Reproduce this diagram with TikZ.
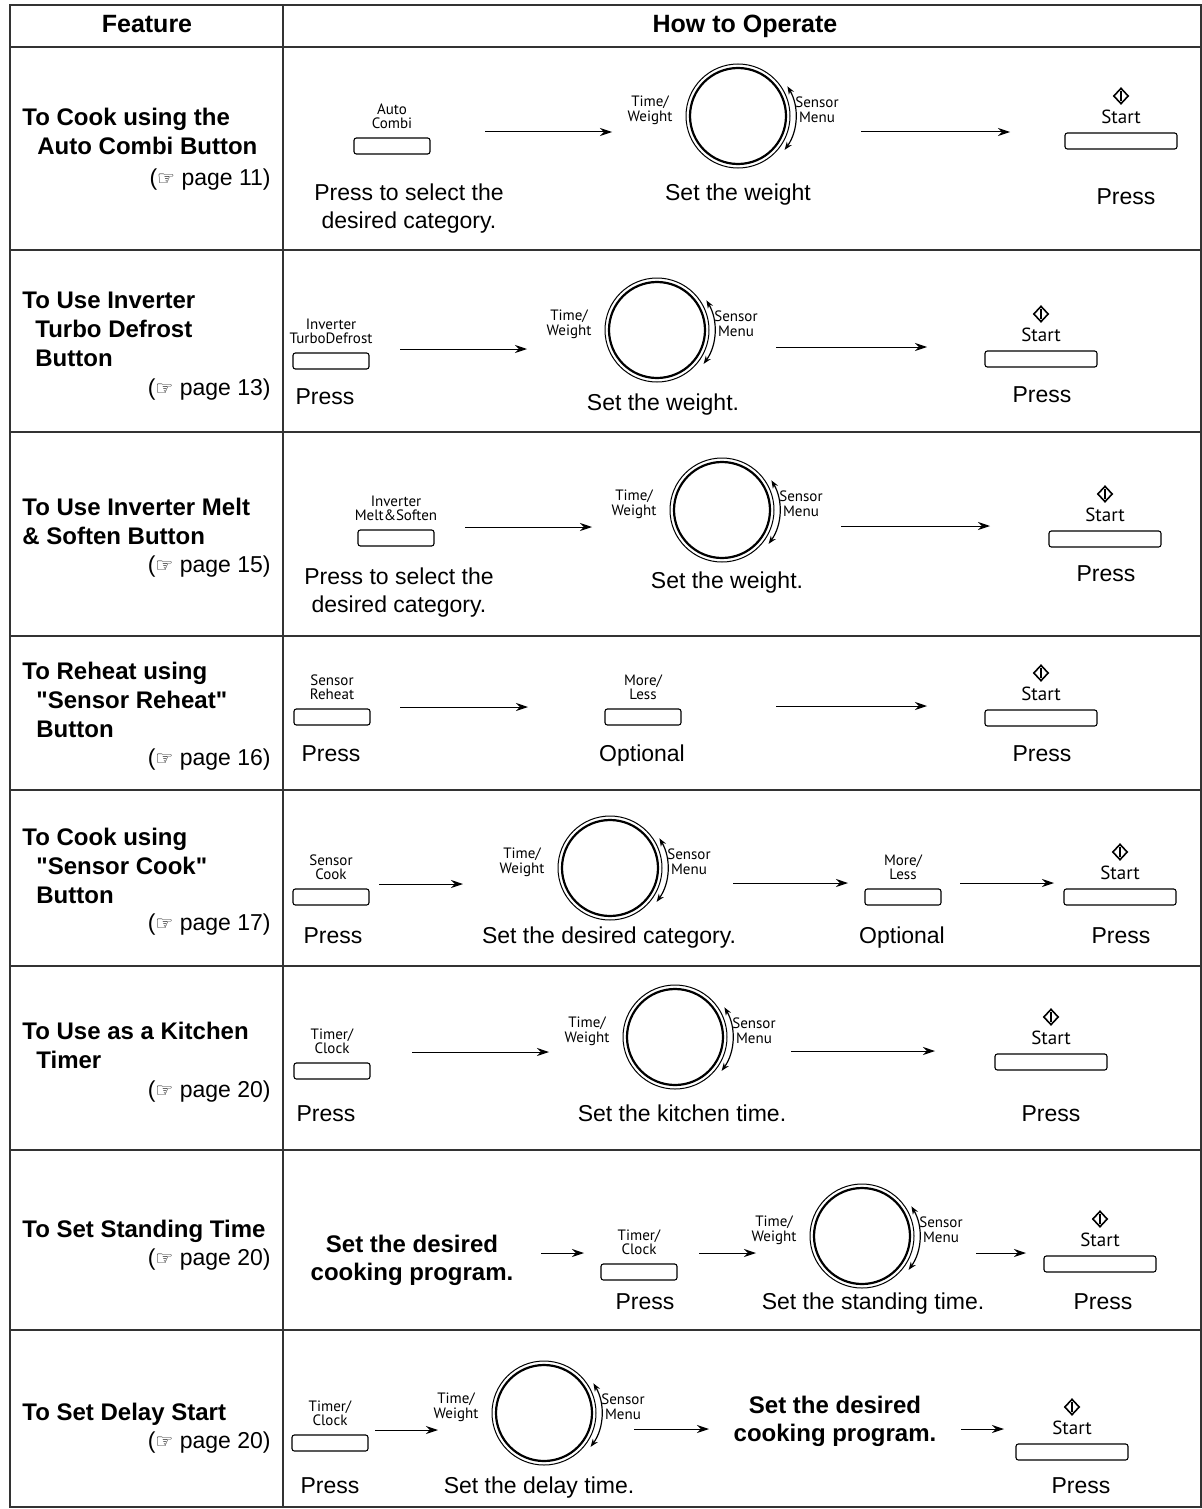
\documentclass[tikz,border=0pt]{standalone}
\usepackage{fontspec}
\setmainfont{Liberation Sans}
\newfontfamily\keyfont{PT Sans}
\newfontfamily\symfont{DejaVu Sans}
\usetikzlibrary{positioning,shapes.geometric,arrows.meta}

\newcommand{\pg}[1]{({\symfont\fontsize{10}{10}\selectfont ☞} page #1)}
\newcommand{\qq}{\XeTeXglyph\XeTeXglyphindex "quotedbl"\relax}

\begin{document}
\begin{tikzpicture}[x=0.5pt, y=-0.5pt, >={Stealth[length=6pt,width=4pt]},
  grid/.style={draw=black!80, line width=0.8pt},
  head/.style={font=\fontsize{12.5}{14}\selectfont\bfseries, inner sep=0pt, anchor=base},
  feat/.style={font=\fontsize{12}{14.5}\selectfont\bfseries, align=left, inner sep=0pt, anchor=base west},
  ref/.style={font=\fontsize{11.5}{14}\selectfont, inner sep=0pt, anchor=base east},
  txt/.style={font=\fontsize{11.5}{14}\selectfont, align=center, inner sep=0pt, anchor=base},
  prog/.style={font=\fontsize{12}{14}\selectfont\bfseries, align=center, inner sep=0pt, anchor=base},
  keybtn/.style={draw, rounded corners=1.2pt, line width=0.55pt, minimum width=38pt, minimum height=8pt, inner sep=0pt},
  startbtn/.style={keybtn, minimum width=56pt},
  keylbl/.style={font=\keyfont\fontsize{7.5}{7.4}\selectfont, align=center, inner sep=0pt},
  starticon/.style={diamond, draw, line width=0.8pt, minimum width=7.5pt, minimum height=8pt, inner sep=0pt,
    path picture={\draw[line width=1.3pt] ([yshift=-2.6pt]path picture bounding box.center) -- ([yshift=2.6pt]path picture bounding box.center);}},
  dial/.pic={
    \node[circle, draw, line width=1.1pt, minimum size=48pt, inner sep=0pt] (-c) {};
    \draw[line width=0.5pt] (-c.center) circle[radius=26pt];
    \draw[{Stealth[length=4pt,width=3pt]}-{Stealth[length=4pt,width=3pt]}, line width=0.6pt] (-36:28.8pt) arc[start angle=-36, end angle=31, radius=28.8pt];
    \node[keylbl] (-tw) at (-88,-6) {Time/\\Weight};
    \node[keylbl] (-sm) at (79,-6) {Sensor\\Menu};
  },
  startkey/.pic={
    \node[startbtn] (-b) {};
    \node[keylbl, font=\keyfont\fontsize{9.5}{10}\selectfont] (-t) at (0,-24) {Start};
    \node[starticon] (-i) at (0,-45) {};
  }]
  \useasboundingbox (0,0) rectangle (1202,1509);
  % Table
  \draw[grid] (10,5) rectangle (1201,1507);
  \draw[grid] (283,5) -- (283,1507);
  \foreach \y in {47,250,432,636,790,966,1150,1330}
    \draw[grid] (10,\y) -- (1201,\y);
  \node[head] (h1) at (147,33) {Feature};
  \node[head] (h2) at (745,33) {How to Operate};

  % Features (base = last line)
  \node[feat] (f1) at (22,155) {To Cook using the\\\hspace*{7.5pt}Auto Combi Button};
  \node[ref] (r1) at (271,185) {\pg{11}};
  \node[feat] (f2) at (22,366) {To Use Inverter\\\hspace*{6.5pt}Turbo Defrost\\\hspace*{6.5pt}Button};
  \node[ref] (r2) at (271,395) {\pg{13}};
  \node[feat] (f3) at (22,544) {To Use Inverter Melt\\\& Soften Button};
  \node[ref] (r3) at (271,572) {\pg{15}};
  \node[feat] (f4) at (22,737) {To Reheat using\\\hspace*{7pt}\qq Sensor Reheat\qq\\\hspace*{7pt}Button};
  \node[ref] (r4) at (271,765) {\pg{16}};
  \node[feat] (f5) at (22,903) {To Cook using\\\hspace*{7pt}\qq Sensor Cook\qq\\\hspace*{7pt}Button};
  \node[ref] (r5) at (271,930) {\pg{17}};
  \node[feat] (f6) at (22,1068) {To Use as a Kitchen\\\hspace*{7pt}Timer};
  \node[ref] (r6) at (271,1097) {\pg{20}};
  \node[feat] (f7) at (22,1237) {To Set Standing Time};
  \node[ref] (r7) at (271,1265) {\pg{20}};
  \node[feat] (f8) at (22,1420) {To Set Delay Start};
  \node[ref] (r8) at (271,1448) {\pg{20}};

  % Keys
  \node[keybtn] (b1) at (392,146) {};
  \node[keylbl, above=4pt of b1] (b1t) {Auto\\Combi};
  \node[keybtn] (b2) at (331,361) {};
  \node[keylbl, above=4pt of b2] (b2t) {Inverter\\TurboDefrost};
  \node[keybtn] (b3) at (396,538) {};
  \node[keylbl, above=4pt of b3] (b3t) {Inverter\\Melt\&Soften};
  \node[keybtn] (b4) at (332,717) {};
  \node[keylbl, above=4pt of b4] (b4t) {Sensor\\Reheat};
  \node[keybtn] (m4) at (643,717) {};
  \node[keylbl, above=4pt of m4] (m4t) {More/\\Less};
  \node[keybtn] (b5) at (331,897) {};
  \node[keylbl, above=4pt of b5] (b5t) {Sensor\\Cook};
  \node[keybtn] (m5) at (903,897) {};
  \node[keylbl, above=4pt of m5] (m5t) {More/\\Less};
  \node[keybtn] (b6) at (332,1071) {};
  \node[keylbl, above=4pt of b6] (b6t) {Timer/\\Clock};
  \node[keybtn] (b7) at (639,1272) {};
  \node[keylbl, above=4pt of b7] (b7t) {Timer/\\Clock};
  \node[keybtn] (b8) at (330,1443) {};
  \node[keylbl, above=4pt of b8] (b8t) {Timer/\\Clock};

  % Dials
  \pic (d1) at (738,116) {dial};
  \pic (d2) at (657,330) {dial};
  \pic (d3) at (722,510) {dial};
  \pic (d5) at (610,868) {dial};
  \pic (d6) at (675,1037) {dial};
  \pic (d7) at (862,1236) {dial};
  \pic (d8) at (544,1413) {dial};

  % Start
  \pic (s1) at (1121,141) {startkey};
  \pic (s2) at (1041,359) {startkey};
  \pic (s3) at (1105,539) {startkey};
  \pic (s4) at (1041,718) {startkey};
  \pic (s5) at (1120,897) {startkey};
  \pic (s6) at (1051,1062) {startkey};
  \pic (s7) at (1100,1264) {startkey};
  \pic (s8) at (1072,1452) {startkey};

  % Texts
  \node[txt] (t1a) at (409,228) {Press to select the\\desired category.};
  \node[txt] (t1b) at (738,200) {Set the weight};
  \node[txt] (t1c) at (1126,204) {Press};
  \node[txt] (t2a) at (325,404) {Press};
  \node[txt] (t2b) at (663,410) {Set the weight.};
  \node[txt] (t2c) at (1042,402) {Press};
  \node[txt] (t3a) at (399,612) {Press to select the\\desired category.};
  \node[txt] (t3b) at (727,588) {Set the weight.};
  \node[txt] (t3c) at (1106,581) {Press};
  \node[txt] (t4a) at (331,761) {Press};
  \node[txt] (t4b) at (642,761) {Optional};
  \node[txt] (t4c) at (1042,761) {Press};
  \node[txt] (t5a) at (333,943) {Press};
  \node[txt] (t5b) at (609,943) {Set the desired category.};
  \node[txt] (t5c) at (902,943) {Optional};
  \node[txt] (t5d) at (1121,943) {Press};
  \node[txt] (t6a) at (326,1121) {Press};
  \node[txt] (t6b) at (682,1121) {Set the kitchen time.};
  \node[txt] (t6c) at (1051,1121) {Press};
  \node[prog] (t7a) at (412,1280) {Set the desired\\cooking program.};
  \node[txt] (t7b) at (645,1309) {Press};
  \node[txt] (t7c) at (873,1309) {Set the standing time.};
  \node[txt] (t7d) at (1103,1309) {Press};
  \node[txt] (t8a) at (330,1493) {Press};
  \node[txt] (t8b) at (539,1493) {Set the delay time.};
  \node[prog] (t8c) at (835,1441) {Set the desired\\cooking program.};
  \node[txt] (t8d) at (1081,1493) {Press};

  % Arrows
  \foreach \i/\a/\b/\y in {1/485/612/132, 2/861/1010/132, 3/400/527/349, 4/776/927/347,
      5/465/592/527, 6/841/990/526, 7/400/528/707, 8/776/927/706,
      9/379/463/884, 10/733/848/883, 11/960/1054/883, 12/412/549/1052, 13/791/935/1051,
      14/541/584/1253, 15/699/756/1253, 16/976/1026/1253,
      17/375/438/1430, 18/634/709/1429, 19/961/1004/1429} {
    \coordinate (p\i) at (\a,\y);
    \coordinate (q\i) at (\b,\y);
    \draw[->, line width=0.5pt] (p\i) -- (q\i);
  }
\end{tikzpicture}
\end{document}
